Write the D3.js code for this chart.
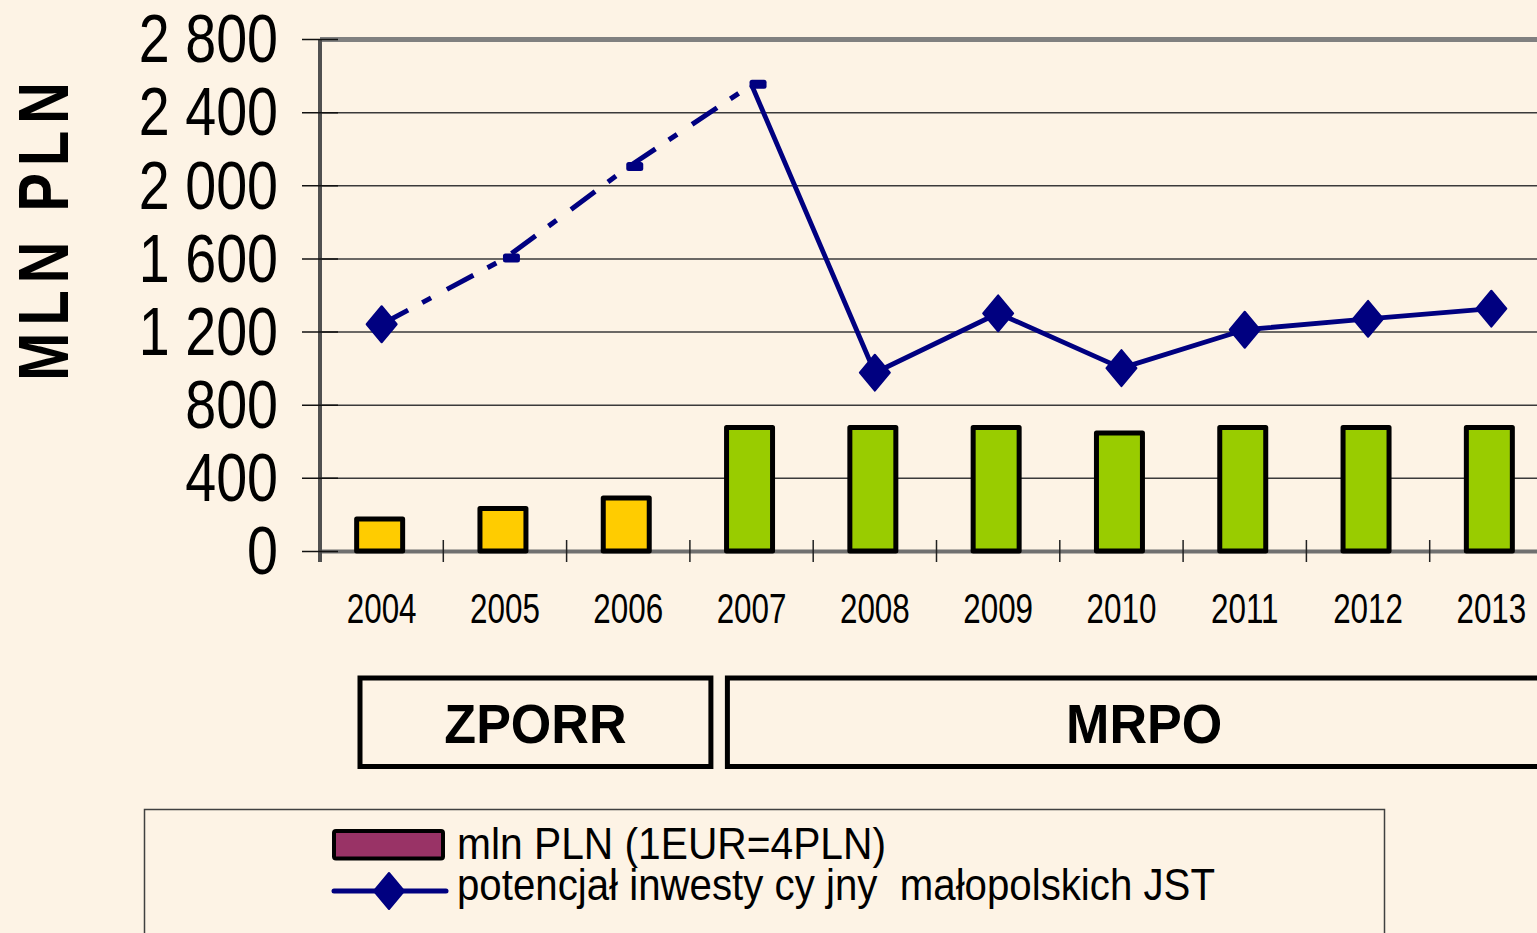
<!DOCTYPE html>
<html>
<head>
<meta charset="utf-8">
<script src="https://cdn.jsdelivr.net/npm/d3@7"></script>
<style>
  html, body { margin: 0; padding: 0; background: #fdf3e5; overflow: hidden; }
  svg { display: block; font-family: "Liberation Sans", Arial, sans-serif; }
</style>
</head>
<body>
<svg id="chart" width="1537" height="933"></svg>
<script>
// chart values
var years = ["2004", "2005", "2006", "2007", "2008", "2009", "2010", "2011", "2012", "2013"];
var programmes = ["ZPORR", "ZPORR", "ZPORR", "MRPO", "MRPO", "MRPO", "MRPO", "MRPO", "MRPO", "MRPO"];
var funds = [175, 233, 290, 675, 675, 675, 645, 675, 675, 675];
var potential = [1240, 1600, 2100, 2550, 975, 1300, 1000, 1210, 1270, 1325];
var yTicks = [0, 400, 800, 1200, 1600, 2000, 2400, 2800];
var legendLabels = ["mln PLN (1EUR=4PLN)", "potencjał inwesty cy jny  małopolskich JST"];
var axisTitle = "MLN PLN";

var svg = d3.select("#chart");
var W = 1537;
var navy = "#000080";
var barColor = { ZPORR: "#ffcc00", MRPO: "#99cc00" };

// scales
var x = d3.scaleBand().domain(years).range([320, 1553]).padding(0);
var y = d3.scaleLinear().domain([0, 2800]).range([551, 39]);
var cx = function(d) { return x(d) + x.bandwidth() / 2; };

var fmt = d3.formatLocale({ decimal: ",", thousands: " ", grouping: [3], currency: ["", ""] }).format(",");

// gridlines
var grid = svg.append("g")
  .attr("transform", "translate(320,0)")
  .call(d3.axisLeft(y).tickValues(yTicks).tickSize(-(W - 320)).tickFormat(""));
grid.select(".domain").remove();
grid.selectAll("line")
  .attr("stroke", function(d) { return d === 2800 ? "#808080" : "#3a3a3a"; })
  .attr("stroke-width", function(d) { return d === 2800 ? 5 : (d === 0 ? 4 : 1.5); })
  .filter(function(d) { return d === 0; }).attr("stroke", "#707070");

// y axis with ticks crossing the line
var yAxis = svg.append("g")
  .attr("transform", "translate(320,0)")
  .call(d3.axisLeft(y).tickValues(yTicks).tickSize(18).tickFormat(fmt));
yAxis.select(".domain")
  .attr("d", "M0," + y(2800) + "V562")
  .attr("stroke", "#505050").attr("stroke-width", 4);
yAxis.selectAll(".tick line").attr("x1", 18).attr("x2", -18).attr("stroke", "#111").attr("stroke-width", 1.5);
yAxis.selectAll(".tick text")
  .attr("x", 0).attr("dy", "0.33em")
  .attr("text-anchor", "end")
  .attr("font-size", 69)
  .attr("fill", "#000")
  .attr("transform", "translate(-42,0) scale(0.806,1)");

// category boundary ticks
svg.append("g").selectAll("line")
  .data(years.slice(1))
  .join("line")
  .attr("x1", function(d) { return x(d); }).attr("x2", function(d) { return x(d); })
  .attr("y1", 540).attr("y2", 562)
  .attr("stroke", "#222").attr("stroke-width", 1.5);

// x labels
var xAxis = svg.append("g")
  .attr("transform", "translate(0,551)")
  .call(d3.axisBottom(x).tickSize(0).tickPadding(41));
xAxis.select(".domain").remove();
xAxis.selectAll(".tick text")
  .attr("font-size", 43)
  .attr("fill", "#000")
  .attr("transform", "scale(0.73,1)");

// bars (sit a touch left of the category centre, as in the source)
var bw = x.bandwidth() * 0.373;
svg.append("g").selectAll("rect")
  .data(years)
  .join("rect")
  .attr("x", function(d) { return cx(d) - 2 - bw / 2; })
  .attr("y", function(d, i) { return y(funds[i]); })
  .attr("width", bw)
  .attr("height", function(d, i) { return y(0) - y(funds[i]); })
  .attr("fill", function(d, i) { return barColor[programmes[i]]; })
  .attr("stroke", "#000").attr("stroke-width", 5).attr("stroke-linejoin", "round");

// line: dashed through the ZPORR years up to 2007, solid after
var pts = years.map(function(d, i) { return [cx(d), y(potential[i])]; });
var line = d3.line();
var split = programmes.indexOf("MRPO");
svg.append("path")
  .attr("d", line(pts.slice(0, split + 1)))
  .attr("fill", "none").attr("stroke", navy).attr("stroke-width", 5)
  .attr("stroke-dasharray", "30,16,10,18");
svg.append("path")
  .attr("d", line(pts.slice(split)))
  .attr("fill", "none").attr("stroke", navy).attr("stroke-width", 4.8)
  .attr("stroke-linejoin", "round");

function diamond(sel, px, py) {
  sel.append("path")
    .attr("d", "M" + px + "," + (py - 18) + "L" + (px + 15) + "," + py + "L" + px + "," + (py + 18) + "L" + (px - 15) + "," + py + "Z")
    .attr("fill", navy).attr("stroke", navy).attr("stroke-width", 2).attr("stroke-linejoin", "round");
}

var marks = svg.append("g");
pts.forEach(function(p, i) {
  if (i > 0 && i <= split) {
    marks.append("rect")
      .attr("x", p[0] - 2).attr("y", p[1] - 5)
      .attr("width", 17).attr("height", 9).attr("rx", 2.5)
      .attr("fill", navy);
  } else {
    diamond(marks, p[0], p[1]);
  }
});

// programme boxes
var boxes = [
  { name: "ZPORR", x0: x(years[0]) + 40, x1: x(years[split]) + 21 },
  { name: "MRPO", x0: x(years[split]) + 37.5, x1: x.range()[1] + 8 }
];
var bg = svg.append("g").selectAll("g").data(boxes).join("g");
bg.append("rect")
  .attr("x", function(d) { return d.x0; }).attr("y", 678)
  .attr("width", function(d) { return d.x1 - d.x0; }).attr("height", 88.5)
  .attr("fill", "none").attr("stroke", "#000").attr("stroke-width", 5);
bg.append("text")
  .attr("transform", function(d) { return "translate(" + ((d.x0 + d.x1) / 2) + ",743) scale(0.93,1)"; })
  .attr("text-anchor", "middle")
  .attr("font-size", 56).attr("font-weight", "bold")
  .text(function(d) { return d.name; });

// axis title
svg.append("text")
  .attr("transform", "translate(68,231.5) rotate(-90) scale(0.83,1)")
  .attr("text-anchor", "middle")
  .attr("font-size", 70).attr("font-weight", "bold")
  .attr("textLength", 360).attr("lengthAdjust", "spacing")
  .text(axisTitle);

// legend
var lg = svg.append("g");
lg.append("rect")
  .attr("x", 144.5).attr("y", 809.5).attr("width", 1240).attr("height", 200)
  .attr("fill", "none").attr("stroke", "#404040").attr("stroke-width", 1.5);
lg.append("rect")
  .attr("x", 334).attr("y", 831).attr("width", 109).attr("height", 27.5)
  .attr("fill", "#993366").attr("stroke", "#000").attr("stroke-width", 4).attr("rx", 2);
lg.append("line")
  .attr("x1", 334).attr("x2", 446).attr("y1", 891).attr("y2", 891)
  .attr("stroke", navy).attr("stroke-width", 5).attr("stroke-linecap", "round");
diamond(lg, 389, 891);
lg.selectAll("text.lab")
  .data(legendLabels)
  .join("text")
  .attr("class", "lab")
  .attr("x", 457)
  .attr("y", function(d, i) { return 859 + i * 41; })
  .attr("font-size", 45)
  .attr("xml:space", "preserve")
  .style("white-space", "pre")
  .attr("textLength", function(d, i) { return i === 0 ? 429 : 758; })
  .attr("lengthAdjust", "spacingAndGlyphs")
  .text(function(d) { return d; });
</script>
</body>
</html>
